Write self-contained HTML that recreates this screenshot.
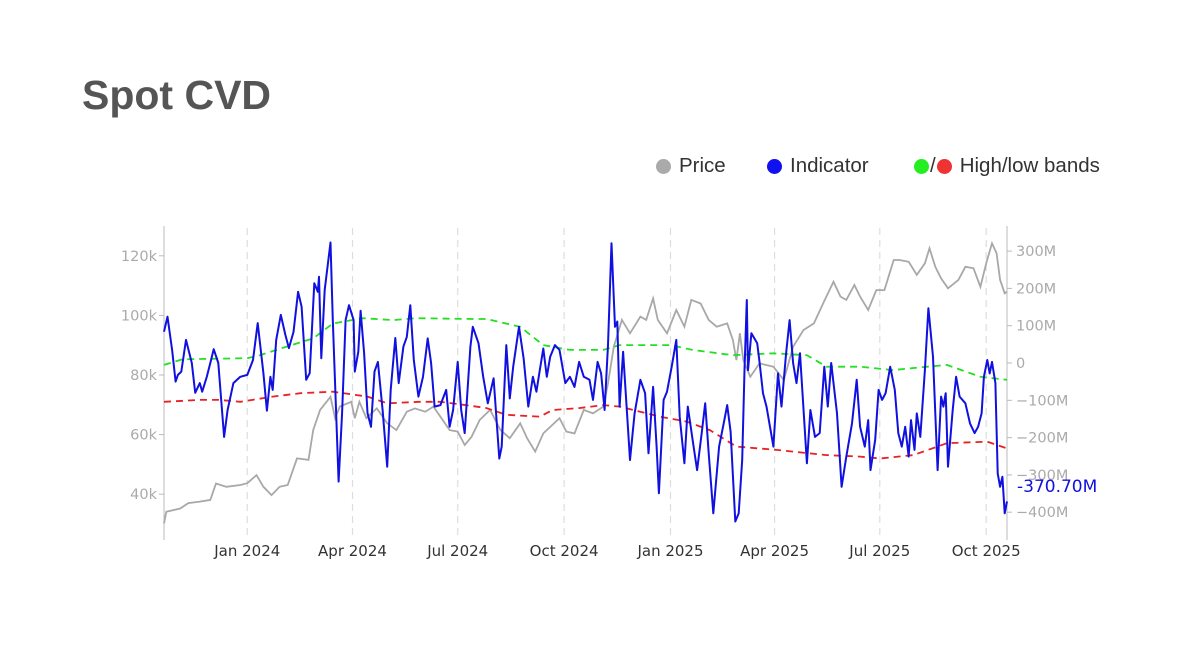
<!DOCTYPE html>
<html><head><meta charset="utf-8"><style>
body{margin:0;background:#fff;width:1200px;height:650px;overflow:hidden;font-family:"Liberation Sans",sans-serif}
#title{position:absolute;left:82px;top:72px;font-size:41px;font-weight:bold;color:#555;margin:0}
.leg{position:absolute;top:154px;font-size:20.5px;color:#333;display:flex;align-items:center}
.dot{display:inline-block;width:15px;height:15px;border-radius:50%;margin-right:8px}
svg{position:absolute;left:0;top:0}
</style></head><body>
<h1 id="title">Spot CVD</h1>
<div class="leg" style="left:656px"><span class="dot" style="background:#aaa"></span>Price</div>
<div class="leg" style="left:767px"><span class="dot" style="background:#1010f0"></span>Indicator</div>
<div class="leg" style="left:914px"><span class="dot" style="background:#22ee22;margin-right:1px"></span>/<span class="dot" style="background:#ee3333;margin-left:1px"></span>High/low bands</div>
<svg id="chart" width="1200" height="650"></svg>
<script>
const xTickLabels=["Jan 2024","Apr 2024","Jul 2024","Oct 2024","Jan 2025","Apr 2025","Jul 2025","Oct 2025"];
const xTickDays=[72,163,254,346,438,528,619,711];
const leftTicks=[40,60,80,100,120];
const rightTicks=[300,200,100,0,-100,-200,-300,-400];
const priceDays=[0,2,14,21,31,40,45,54,66,72,80,86,93,100,107,115,125,129,135,144,148,152,162,165,169,175,184,193,201,210,217,226,233,239,247,254,260,266,273,282,291,299,308,314,321,328,342,348,355,363,371,380,384,389,396,403,412,417,423,427,435,443,450,456,464,471,478,487,492,495,498,501,507,515,527,536,544,553,562,570,579,585,590,597,602,609,616,623,631,636,644,651,658,662,667,672,678,687,693,700,706,711,716,720,723,727,729];
const priceVals=[30.2,34.1,35.2,37,37.5,38.1,43.6,42.5,43.1,43.7,46.4,42.5,39.7,42.5,43.1,52,51.5,61.5,68.3,72.7,65.5,69.4,71,65.5,71,65.5,68.8,63.8,61.5,67.7,68.8,67.7,69.4,66,61.5,61,56.5,59.3,64.9,68.3,61.5,58.8,63.8,58.8,54.3,60.4,65.5,61,60.4,68.3,67.1,69.4,77.2,89.5,98.5,94,99.6,98.5,105.7,98.5,94,101.8,96.2,105.2,104,98.5,96.2,97.3,91.7,85,94,85,79.4,83.9,82.8,78.3,89.5,95.1,97.3,104,111.3,106.3,105.2,110.2,106.3,101.8,108.5,108.5,118.6,118.6,118,113.6,117.5,122.5,116.3,112.4,109.1,111.9,116.3,115.8,109.6,117.5,124.2,120.8,111.9,107.4,108];
const indDays=[0,3,7,10,12,15,19,24,27,31,33,37,40,43,47,52,55,60,66,72,77,81,86,89,92,94,97,101,105,108,112,116,119,123,126,130,133,134,136,139,144,146,151,154,157,160,164,165,168,170,173,176,179,182,185,189,193,196,200,203,207,210,213,216,220,224,228,231,234,239,244,247,250,254,257,260,265,267,272,276,280,285,290,292,296,299,302,307,311,315,319,322,325,328,331,334,338,342,347,351,355,359,363,368,371,375,378,381,384,387,390,392,394,397,400,403,407,412,416,419,423,426,428,432,435,439,443,446,450,453,458,461,465,468,471,475,480,484,487,490,494,497,500,502,504,505,508,513,515,518,521,527,531,534,538,541,544,547,550,556,559,563,567,571,574,577,582,586,590,595,599,602,606,609,611,615,618,621,624,628,632,635,638,641,644,646,649,651,654,658,661,665,669,672,674,676,678,682,685,688,693,697,701,704,707,709,712,714,716,719,721,723,725,727,729];
const indVals=[84,124,35,-50,-32,-23,62,0,-80,-54,-77,-37,0,37,0,-198,-126,-54,-37,-32,8,107,-27,-128,-37,-72,62,129,75,40,83,191,151,-45,-27,214,191,231,13,196,323,115,-318,-134,115,155,115,-23,30,140,27,-134,-171,-23,3,-126,-278,-72,67,-54,44,70,155,8,-90,-37,66,0,-117,-113,-72,-171,-126,3,-126,-188,44,97,53,-37,-108,-41,-256,-224,48,-95,-10,97,13,-117,-37,-77,-19,39,-37,17,48,35,-54,-37,-64,3,-37,-45,-99,3,-28,-126,48,321,97,111,-117,30,-117,-260,-135,-45,-81,-242,-64,-224,-349,-99,-77,-10,62,-144,-269,-117,-224,-287,-188,-108,-242,-403,-224,-162,-113,-184,-425,-403,-260,-19,169,-19,80,53,3,-81,-117,-224,-28,-117,26,115,0,-54,26,-269,-126,-198,-188,-10,-117,0,-135,-332,-251,-162,-45,-171,-224,-153,-287,-206,-72,-99,-81,-10,-72,-188,-224,-171,-251,-153,-233,-135,-198,-19,147,17,-287,-90,-117,-81,-278,-126,-37,-90,-108,-162,-188,-171,-135,-37,8,-28,3,-54,-296,-332,-305,-403,-371];
const highDays=[0,16,72,83,106,129,146,172,198,218,267,279,308,328,351,380,394,438,457,492,527,556,573,602,630,660,677,706,729];
const highVals=[-5,10,13,21,44,66,106,120,115,120,118,118,97,48,35,35,48,48,35,21,26,21,-10,-10,-19,-10,-5,-37,-45];
const lowDays=[0,31,48,66,94,118,146,176,193,221,239,261,279,296,325,336,359,380,394,429,452,472,495,530,573,602,619,648,677,712,729];
const lowVals=[-104,-99,-99,-104,-90,-81,-77,-90,-108,-104,-104,-113,-121,-139,-144,-126,-121,-113,-117,-144,-157,-180,-224,-233,-247,-251,-256,-247,-215,-211,-229];
const lastLabel="-370.70M";

const svg=document.getElementById('chart');
const NS='http://www.w3.org/2000/svg';
const X0=164,X1=1007,DMAX=729;
const xs=d=>X0+d*(X1-X0)/DMAX;
const yL=v=>375-(v-80)*2.98;
const yR=v=>363-v*0.373;
function mk(tag,attrs,parent){const e=document.createElementNS(NS,tag);for(const k in attrs)e.setAttribute(k,attrs[k]);(parent||svg).appendChild(e);return e;}
xTickDays.forEach((d,i)=>{
  const g=mk('line',{x1:xs(d),x2:xs(d),y1:228,y2:540,stroke:'#ddd','stroke-width':1.2,'stroke-dasharray':'7,5'});
  
  
  const t=mk('text',{x:xs(d),y:556,'text-anchor':'middle','font-size':15,fill:'#333','font-family':'"DejaVu Sans",sans-serif'});
  t.textContent=xTickLabels[i];
  
  
});
const la=mk('line',{x1:X0,x2:X0,y1:226,y2:540,stroke:'#bbb','stroke-width':1});


const ra=mk('line',{x1:X1,x2:X1,y1:226,y2:540,stroke:'#bbb','stroke-width':1});


leftTicks.forEach(v=>{
  mk('line',{x1:X0-5,x2:X0,y1:yL(v),y2:yL(v),stroke:'#bbb'});
  const t=mk('text',{x:X0-7,y:yL(v)+5,'text-anchor':'end','font-size':14.5,fill:'#aaa','font-family':'"DejaVu Sans",sans-serif'});
  t.textContent=v+'k';
  
  
});
rightTicks.forEach(v=>{
  mk('line',{x1:X1,x2:X1+5,y1:yR(v),y2:yR(v),stroke:'#bbb'});
  const t=mk('text',{x:X1+9,y:yR(v)+5,'font-size':14.5,fill:'#aaa','font-family':'"DejaVu Sans",sans-serif'});
  t.textContent=v===0?'0':(v<0?'\u2212'+(-v):v)+'M';
  
  
});
function path(days,vals,ys){return days.map((d,i)=>(i?'L':'M')+xs(d).toFixed(1)+','+ys(vals[i]).toFixed(1)).join('');}
const pp=mk('path',{d:path(priceDays,priceVals,yL),fill:'none',stroke:'#a8a8a8','stroke-width':1.8});


const hp=mk('path',{d:path(highDays,highVals,yR),fill:'none',stroke:'#22e022','stroke-width':1.8,'stroke-dasharray':'7,5'});


const lp=mk('path',{d:path(lowDays,lowVals,yR),fill:'none',stroke:'#e82222','stroke-width':1.8,'stroke-dasharray':'7,5'});


const ip=mk('path',{d:path(indDays,indVals,yR),fill:'none',stroke:'#1010e0','stroke-width':2,'stroke-linejoin':'round'});


const lt=mk('text',{x:X1+10,y:492,'font-size':17,fill:'#1010e0','font-family':'"DejaVu Sans",sans-serif'});
lt.textContent=lastLabel;


</script>
</body></html>
